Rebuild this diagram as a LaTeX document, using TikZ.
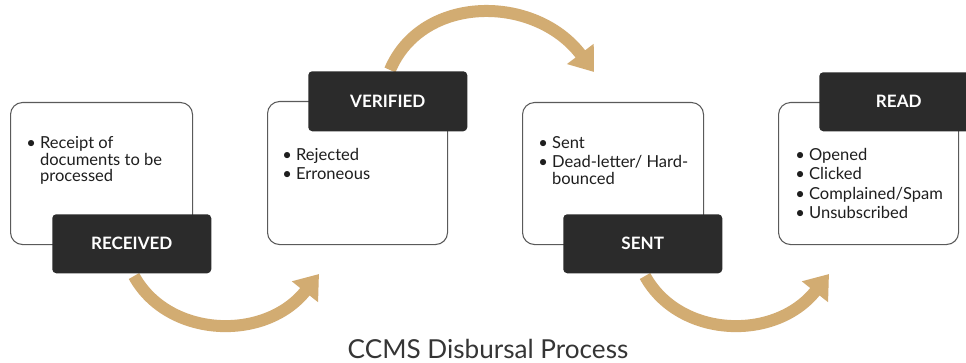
\documentclass[tikz,border=0pt]{standalone}
\usepackage{fontspec}
\setmainfont{Lato}
\usetikzlibrary{arrows.meta}
\definecolor{tan}{HTML}{D2AC72}
\definecolor{hdr}{HTML}{2B2B2B}
\definecolor{frame}{HTML}{5A5A5A}
\definecolor{ink}{HTML}{1E1E1E}
\newcommand{\bul}{\textbullet\ }
\newcommand{\ind}{\phantom{\textbullet\ }}
\begin{document}
\begin{tikzpicture}[x=0.75pt,y=-0.75pt,
  card/.style={draw=frame,line width=0.8pt,fill=white,rounded corners=9pt,inner sep=0pt,anchor=north west},
  header/.style={fill=hdr,rounded corners=3pt,inner sep=0pt,anchor=north west,text=white,font=\fontsize{12.8}{15}\selectfont\bfseries},
  items/.style={anchor=north west,align=left,inner sep=0pt,text=ink,font=\fontsize{12.4}{12.6}\selectfont},
  flow/.style={draw=tan,line width=9pt,-{Triangle[length=17pt,width=24pt]}},
  title/.style={text=ink!90,font=\fontsize{19.6}{22}\selectfont}]
\clip (0,0) rectangle (966,363);
\useasboundingbox (0,0) rectangle (966,363);
\fill[white] (0,0) rectangle (966,363);
% arrows
\coordinate (a1s) at (134,276);
\coordinate (a1e) at (319,274);
\coordinate (a2s) at (390,70);
\coordinate (a2e) at (594,72);
\coordinate (a3s) at (645,276);
\coordinate (a3e) at (829,274);
\draw[flow] (a1s) .. controls (168,338) and (265,342) .. (a1e);
\draw[flow] (a2s) .. controls (422,-6) and (535,-6) .. (a2e);
\draw[flow] (a3s) .. controls (679,338) and (775,342) .. (a3e);
% cards
\node[card,minimum width=182*0.75pt,minimum height=142*0.75pt] (c1) at (10,102) {};
\node[card,minimum width=180*0.75pt,minimum height=143*0.75pt] (c2) at (267,101) {};
\node[card,minimum width=181*0.75pt,minimum height=142*0.75pt] (c3) at (522,102) {};
\node[card,minimum width=180*0.75pt,minimum height=142*0.75pt] (c4) at (778,102) {};
% headers
\node[header,minimum width=159*0.75pt,minimum height=59*0.75pt] (h1) at (52,214) {RECEIVED};
\node[header,minimum width=159*0.75pt,minimum height=60*0.75pt] (h2) at (308,71) {VERIFIED};
\node[header,minimum width=159*0.75pt,minimum height=59*0.75pt] (h3) at (563,214) {SENT};
\node[header,minimum width=159*0.75pt,minimum height=59*0.75pt] (h4) at (819,72) {READ};
% items
\node[items] (t1) at (26,136) {\bul Receipt of\\\ind documents to be\\\ind processed};
\node[items] (t2) at (282,148) {\bul Rejected\\[2pt]\bul Erroneous};
\node[items] (t3) at (538,136) {\bul Sent\\[2pt]\bul Dead-letter/ Hard-\\\ind bounced};
\node[items] (t4) at (795,148) {\bul Opened\\[2pt]\bul Clicked\\[2pt]\bul Complained/Spam\\[2pt]\bul Unsubscribed};
\node[title] (ttl) at (488,349) {CCMS Disbursal Process};
\end{tikzpicture}
\end{document}
